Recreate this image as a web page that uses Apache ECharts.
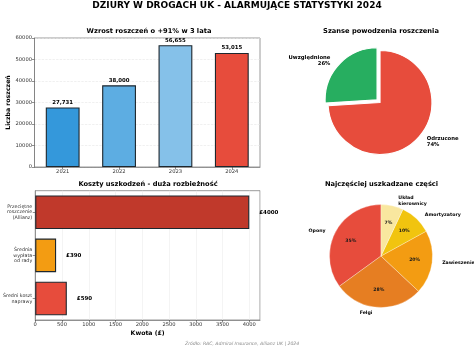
<!DOCTYPE html>
<html>
<head>
<meta charset="utf-8">
<script src="https://cdn.jsdelivr.net/npm/echarts@6/dist/echarts.min.js"></script>
<style>
html,body{margin:0;padding:0;background:#fff;}
#chart{width:474px;height:349px;}
</style>
</head>
<body>
<div id="chart"></div>
<script>
// ---- data ----
const mainTitle = 'DZIURY W DROGACH UK - ALARMUJĄCE STATYSTYKI 2024';
const claimsTitle = 'Wzrost roszczeń o +91% w 3 lata';
const claimsAxisName = 'Liczba roszczeń';
const years = ['2021', '2022', '2023', '2024'];
const claims = [27731, 38000, 56655, 53015];

const outcomeTitle = 'Szanse powodzenia roszczenia';
const outcomeNames = ['Uwzględnione', 'Odrzucone'];
const outcomeValues = [26, 74];

const costTitle = 'Koszty uszkodzeń - duża rozbieżność';
const costAxisName = 'Kwota (£)';
const costCategories = ['Przeciętne\nroszczenie\n(Allianz)', 'Średnia\nwypłata\nod rady', 'Średni koszt\nnaprawy'];
const costValues = [4000, 390, 590];

const partsTitle = 'Najczęściej uszkadzane części';
const partNames = ['Opony', 'Felgi', 'Zawieszenie', 'Amortyzatory', 'Układ\nkierownicy'];
const partValues = [35, 28, 20, 10, 7];

const sourceText = 'Źródło: RAC, Admiral Insurance, Allianz UK | 2024';

// ---- styles ----
const FONT = 'DejaVu Sans';
const claimColors = ['#3498db', '#5dade2', '#85c1e9', '#e74c3c'];
const outcomeColors = ['#27ae60', '#e74c3c'];
const costColors = ['#c0392b', '#f39c12', '#e74c3c'];
const partColors = ['#e74c3c', '#e67e22', '#f39c12', '#f1c40f', '#f9e79f'];
const edge = '#1e272e';
const frame = '#808080';

const chart = echarts.init(document.getElementById('chart'), null, {renderer: 'canvas'});

function txt(text, x, y, size, weight, color, style) {
  return {
    type: 'text', x: x, y: y, silent: true,
    style: {
      text: text, fill: color || '#000', textAlign: 'center', textVerticalAlign: 'middle',
      font: (style || 'normal') + ' ' + (weight || 'bold') + ' ' + size + 'px "' + FONT + '"'
    }
  };
}

const tickStyle = {show: true, length: 2.5, lineStyle: {color: '#444', width: 0.6}};
const labelStyle = {fontSize: 5.2, color: '#333', fontFamily: FONT, margin: 2.5};
const axisLineStyle = {show: true, lineStyle: {color: frame, width: 0.8}};
const plain = v => String(v);

const option = {
  animation: false,
  backgroundColor: '#fff',
  textStyle: {fontFamily: FONT},
  graphic: [
    txt(mainTitle, 237, 6, 9, 'bold'),
    txt(claimsTitle, 149, 31, 6.7, 'bold'),
    txt(outcomeTitle, 381, 31.5, 6.7, 'bold'),
    txt(costTitle, 148, 184.3, 6.7, 'bold'),
    txt(partsTitle, 381.5, 184.3, 6.7, 'bold'),
    {
      type: 'text', x: 185, y: 344, silent: true,
      style: {text: sourceText, fill: '#8a8a8a', textAlign: 'left', textVerticalAlign: 'middle',
        font: 'italic normal 4.6px "' + FONT + '"'}
    }
  ],
  grid: [
    {left: 34.5, top: 38, width: 225.5, height: 129, show: true, borderColor: frame, borderWidth: 0.8, backgroundColor: 'transparent'},
    {left: 35, top: 190.7, width: 225, height: 129.3, show: true, borderColor: frame, borderWidth: 0.8, backgroundColor: 'transparent'}
  ],
  xAxis: [
    {
      type: 'category', gridIndex: 0, data: years,
      axisLine: axisLineStyle,
      axisTick: Object.assign({}, tickStyle, {alignWithLabel: true}),
      axisLabel: labelStyle
    },
    {
      type: 'value', gridIndex: 1, min: 0, max: 4200, interval: 500,
      axisLine: axisLineStyle, axisTick: tickStyle,
      axisLabel: Object.assign({}, labelStyle, {showMaxLabel: false, formatter: plain}),
      splitLine: {show: true, lineStyle: {color: '#ececec', width: 0.6}},
      name: costAxisName, nameLocation: 'middle', nameGap: 10,
      nameTextStyle: {fontSize: 6.2, fontWeight: 'bold', color: '#000', fontFamily: FONT}
    }
  ],
  yAxis: [
    {
      type: 'value', gridIndex: 0, min: 0, max: 60000, interval: 10000,
      axisLine: axisLineStyle, axisTick: tickStyle,
      axisLabel: Object.assign({}, labelStyle, {formatter: plain}),
      splitLine: {show: true, lineStyle: {color: '#e6e6e6', width: 0.6, type: 'dashed'}},
      name: claimsAxisName, nameLocation: 'middle', nameGap: 21,
      nameTextStyle: {fontSize: 6.2, fontWeight: 'bold', color: '#000', fontFamily: FONT}
    },
    {
      type: 'category', gridIndex: 1, data: costCategories, inverse: true,
      axisLine: axisLineStyle,
      axisTick: Object.assign({}, tickStyle, {alignWithLabel: true}),
      axisLabel: {fontSize: 4.8, color: '#333', fontFamily: FONT, margin: 3, lineHeight: 5.9, align: 'right'}
    }
  ],
  series: [
    {
      type: 'bar', xAxisIndex: 0, yAxisIndex: 0, barWidth: '60%',
      data: claims.map((v, i) => ({value: v, itemStyle: {color: claimColors[i]}})),
      itemStyle: {borderColor: edge, borderWidth: 1.1},
      label: {show: true, position: 'top', distance: 2.5, fontSize: 5.4, fontWeight: 'bold', color: '#000',
        formatter: p => p.value.toLocaleString('en-US')}
    },
    {
      type: 'bar', xAxisIndex: 1, yAxisIndex: 1, barWidth: '78%',
      data: costValues.map((v, i) => ({value: v, itemStyle: {color: costColors[i]}})),
      itemStyle: {borderColor: edge, borderWidth: 1.1},
      label: {show: true, position: 'right', distance: 10, fontSize: 5.5, fontWeight: 'bold', color: '#000',
        formatter: p => '£' + p.value}
    },
    {
      type: 'pie', center: [380, 102.5], radius: 52, startAngle: 90, clockwise: false,
      avoidLabelOverlap: false, selectedMode: 'single', selectedOffset: 4,
      data: outcomeNames.map((n, i) => ({name: n, value: outcomeValues[i], selected: i === 0, itemStyle: {color: outcomeColors[i]}})),
      itemStyle: {borderColor: '#fff', borderWidth: 1.2},
      label: {show: true, position: 'outside', fontSize: 5.3, fontWeight: 'bold', color: '#000', lineHeight: 6.5,
        formatter: p => p.name + '\n' + Math.round(p.percent) + '%'},
      labelLine: {show: false, length: 5.2, length2: 0},
      emphasis: {disabled: true}, silent: true
    },
    {
      type: 'pie', center: [381, 256], radius: 51.5, startAngle: 90, clockwise: false,
      avoidLabelOverlap: false,
      data: partNames.map((n, i) => ({name: n, value: partValues[i], itemStyle: {color: partColors[i]}})),
      itemStyle: {borderColor: '#fff', borderWidth: 0.3},
      label: {show: true, position: 'outside', fontSize: 4.7, fontWeight: 'bold', color: '#000', lineHeight: 5.6,
        formatter: p => p.name},
      labelLine: {show: false, length: 5.15, length2: 0},
      emphasis: {disabled: true}, silent: true
    },
    {
      type: 'pie', center: [381, 256], radius: [0, 61.8], startAngle: 90, clockwise: false,
      avoidLabelOverlap: false,
      data: partNames.map((n, i) => ({name: n, value: partValues[i]})),
      itemStyle: {color: 'rgba(0,0,0,0)'},
      label: {show: true, position: 'inside', fontSize: 4.6, fontWeight: 'bold', color: '#1a1a1a',
        formatter: p => Math.round(p.percent) + '%'},
      labelLine: {show: false},
      emphasis: {disabled: true}, silent: true
    }
  ]
};
chart.setOption(option);
</script>
</body>
</html>
